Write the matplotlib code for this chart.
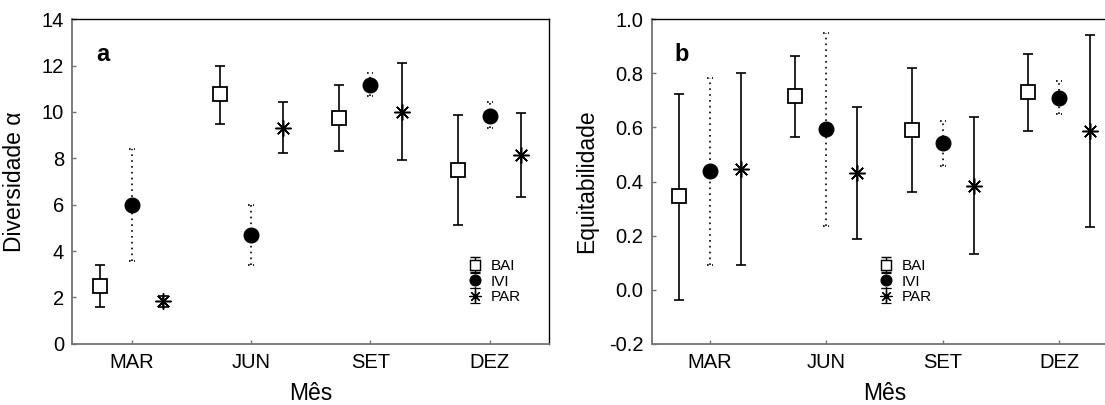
import numpy as np
import matplotlib
matplotlib.use("Agg")
import matplotlib.pyplot as plt

plt.rcParams['font.family'] = ['Liberation Sans', 'DejaVu Sans']

# Meses amostrados
meses = ['MAR', 'JUN', 'SET', 'DEZ']
grupos = ['BAI', 'IVI', 'PAR']

# Diversidade alfa (média, limite inferior, limite superior)
bai_div = [2.50, 10.77, 9.76, 7.50]
bai_div_lo = [1.58, 9.49, 8.32, 5.12]
bai_div_hi = [3.41, 11.99, 11.17, 9.87]
ivi_div = [5.99, 4.67, 11.17, 9.83]
ivi_div_lo = [3.59, 3.38, 10.67, 9.30]
ivi_div_hi = [8.41, 5.97, 11.70, 10.41]
par_div = [1.85, 9.30, 9.99, 8.15]
par_div_lo = [1.60, 8.24, 7.91, 6.35]
par_div_hi = [2.05, 10.41, 12.10, 9.95]

# Equitabilidade (média, limite inferior, limite superior)
bai_eq = [0.345, 0.715, 0.591, 0.730]
bai_eq_lo = [-0.037, 0.565, 0.363, 0.587]
bai_eq_hi = [0.724, 0.866, 0.821, 0.871]
ivi_eq = [0.437, 0.595, 0.542, 0.709]
ivi_eq_lo = [0.090, 0.237, 0.459, 0.650]
ivi_eq_hi = [0.784, 0.951, 0.624, 0.770]
par_eq = [0.447, 0.431, 0.382, 0.587]
par_eq_lo = [0.092, 0.188, 0.131, 0.230]
par_eq_hi = [0.803, 0.675, 0.637, 0.942]

DESLOC = 0.265
CINZA = '0.45'


def painel(ax, series, letra, ylabel, yticks, fmt, legend_xy, labelpad):
    x = np.arange(len(meses))
    estilos = [
        dict(marker='s', ms=10, mfc='white', mec='black', mew=1.3, ls='-'),
        dict(marker='o', ms=10.5, mfc='black', mec='black', mew=1, ls=':'),
        dict(marker=(8, 2, 0), ms=11.5, mfc='black', mec='black', mew=1.1, ls='-'),
    ]
    handles = []
    for i, (media, lo, hi) in enumerate(series):
        media = np.array(media)
        lo = np.array(lo)
        hi = np.array(hi)
        xs = x + (i - 1) * DESLOC
        st = estilos[i]
        yerr = [media - lo, hi - media]
        pontilhado = st['ls'] == ':'
        eb = ax.errorbar(xs, media, yerr=yerr, fmt='none', ecolor='black',
                         elinewidth=1.2, capsize=0 if pontilhado else 3.5,
                         capthick=1.2, zorder=2)
        if pontilhado:
            for lc in eb[2]:
                lc.set_linestyle((0, (1, 2.5)))
            ax.hlines(np.concatenate([lo, hi]), np.concatenate([xs, xs]) - 0.025,
                      np.concatenate([xs, xs]) + 0.025, colors='black',
                      linewidth=1.2, linestyles=(0, (1, 2)), zorder=2)
        ax.plot(xs, media, ls='none', marker=st['marker'], ms=st['ms'],
                mfc=st['mfc'], mec=st['mec'], mew=st['mew'], zorder=3)
        # Ícone da legenda: marcador com barra de erro
        h = ax.errorbar([np.nan], [np.nan], yerr=[[0], [0]], fmt='',
                        linestyle='none', marker=st['marker'],
                        ms=st['ms'] * 0.75, mfc=st['mfc'], mec=st['mec'],
                        mew=st['mew'] * 0.8, ecolor='black', elinewidth=1.0,
                        capsize=3.5, capthick=1.0)
        if pontilhado:
            for lc in h[2]:
                lc.set_linestyle((0, (1, 2)))
        handles.append(h)

    ax.set_xlim(-0.5, 3.5)
    ax.set_ylim(yticks[0], yticks[-1])
    ax.set_xticks(x)
    ax.set_xticklabels(meses)
    ax.set_yticks(yticks)
    ax.set_yticklabels([fmt.format(v) for v in yticks])
    ax.tick_params(direction='in', length=3, width=1, color=CINZA,
                   labelsize=14.5, pad=6)
    ax.tick_params(axis='x', pad=7)
    for lado in ['left', 'bottom']:
        ax.spines[lado].set_color(CINZA)
        ax.spines[lado].set_linewidth(1.3)
    for lado in ['top', 'right']:
        ax.spines[lado].set_color('black')
        ax.spines[lado].set_linewidth(1.0)
    ax.set_xlabel('Mês', fontsize=16.5, labelpad=7)
    ax.set_ylabel(ylabel, fontsize=16.5, labelpad=labelpad)
    ax.text(0.05, 0.87, letra, transform=ax.transAxes, fontsize=17,
            fontweight='bold', va='baseline', ha='left')

    fig = ax.figure
    ax.legend(handles, grupos, loc='upper left', bbox_to_anchor=legend_xy,
              bbox_transform=fig.transFigure, frameon=False, fontsize=11,
              borderpad=0, borderaxespad=0, handlelength=1.0,
              handletextpad=0.55, labelspacing=0.1)


fig = plt.figure(figsize=(11.05, 4.05), dpi=100)
ax1 = fig.add_axes([0.0654, 0.1514, 0.4317, 0.8009])
ax2 = fig.add_axes([0.5897, 0.1514, 0.4217, 0.8009])

painel(ax1,
       [(bai_div, bai_div_lo, bai_div_hi),
        (ivi_div, ivi_div_lo, ivi_div_hi),
        (par_div, par_div_lo, par_div_hi)],
       'a', 'Diversidade α', np.arange(0, 15, 2), '{:.0f}',
       (0.4226, 0.3605), 11)

painel(ax2,
       [(bai_eq, bai_eq_lo, bai_eq_hi),
        (ivi_eq, ivi_eq_lo, ivi_eq_hi),
        (par_eq, par_eq_lo, par_eq_hi)],
       'b', 'Equitabilidade', np.round(np.arange(-0.2, 1.01, 0.2), 1), '{:.1f}',
       (0.7946, 0.3605), 8)

fig.savefig('out.png', dpi=100)
